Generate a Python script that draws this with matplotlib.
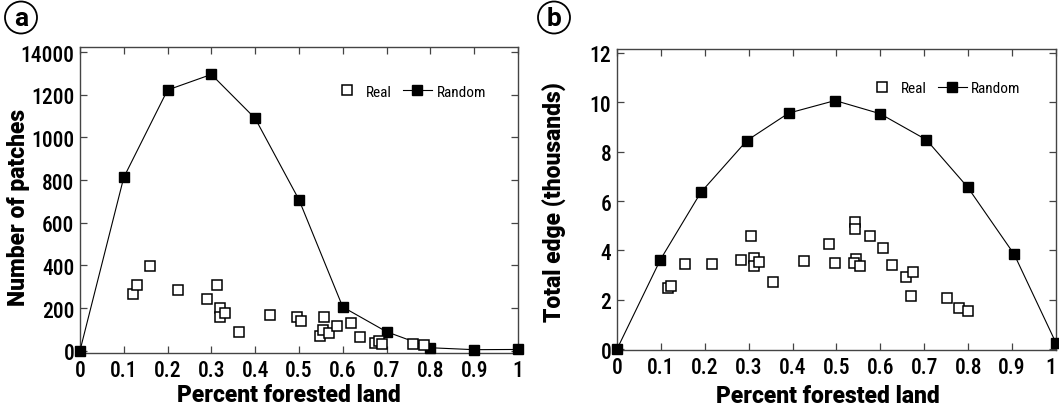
import numpy as np
import matplotlib
matplotlib.use("Agg")
import matplotlib.pyplot as plt
from matplotlib.patches import Ellipse

plt.rcParams['font.family'] = ['Roboto Condensed', 'Archivo Narrow', 'Fira Sans Condensed',
                               'PT Sans Narrow', 'Liberation Sans Narrow', 'DejaVu Sans']
bold_family = ['Roboto', 'Liberation Sans', 'DejaVu Sans']

# panel a: number of patches
rand_x_a = [0.0, 0.1, 0.2, 0.3, 0.4, 0.5, 0.6, 0.7, 0.8, 0.9, 1.0]
rand_y_a = [0, 812, 1222, 1295, 1089, 708, 205, 89, 14, 5, 6]
real_x_a = [0.121, 0.130, 0.160, 0.223, 0.291, 0.312, 0.319, 0.319, 0.332, 0.364,
            0.434, 0.496, 0.505, 0.548, 0.555, 0.558, 0.568, 0.588, 0.619, 0.640,
            0.674, 0.682, 0.690, 0.760, 0.786]
real_y_a = [267, 308, 395, 283, 241, 308, 198, 159, 175, 86,
            167, 156, 139, 67, 98, 159, 84, 117, 130, 66,
            34, 47, 31, 30, 25]
yticks_a = [0, 200, 400, 600, 800, 1000, 1200, 1400]
yticklabels_a = ['0', '200', '400', '600', '800', '1000', '1200', '14000']  # as printed

# panel b: total edge
rand_x_b = [0.0, 0.099, 0.191, 0.296, 0.391, 0.497, 0.599, 0.705, 0.799, 0.905, 1.0]
rand_y_b = [0.0, 3.63, 6.35, 8.45, 9.56, 10.07, 9.54, 8.48, 6.56, 3.84, 0.26]
real_x_b = [0.117, 0.123, 0.155, 0.216, 0.283, 0.305, 0.312, 0.313, 0.323, 0.356,
            0.425, 0.483, 0.497, 0.543, 0.543, 0.545, 0.540, 0.553, 0.577, 0.607,
            0.626, 0.659, 0.674, 0.670, 0.751, 0.780, 0.800]
real_y_b = [2.48, 2.57, 3.47, 3.47, 3.63, 4.57, 3.69, 3.36, 3.54, 2.73,
            3.59, 4.26, 3.48, 5.16, 4.88, 3.66, 3.48, 3.39, 4.59, 4.11,
            3.43, 2.93, 3.14, 2.15, 2.08, 1.69, 1.55]
yticks_b = [0, 2, 4, 6, 8, 10, 12]

xticks = [0, 0.1, 0.2, 0.3, 0.4, 0.5, 0.6, 0.7, 0.8, 0.9, 1]
xticklabels = ['0', '0.1', '0.2', '0.3', '0.4', '0.5', '0.6', '0.7', '0.8', '0.9', '1']

W, H = 1059, 414
fig = plt.figure(figsize=(W / 100, H / 100), dpi=100)
ax_a = fig.add_axes([0.0755, 0.1442, 0.4136, 0.7406])
ax_b = fig.add_axes([0.5826, 0.1522, 0.4145, 0.7278])

def draw(ax, rx, ry, px, py):
    ax.plot(rx, ry, color='black', lw=0.8, marker='s', ms=7, mfc='black', mec='black',
            clip_on=False, zorder=3, label='Random')
    ax.plot(px, py, ls='none', marker='s', ms=7, mfc='white', mec='black', mew=1.1,
            clip_on=False, zorder=4, label='Real')
    for s in ax.spines.values():
        s.set_color('#444444')
        s.set_linewidth(1.0)
    ax.tick_params(direction='in', top=True, right=True, length=5, width=0.9,
                   color='#444444', labelsize=15.5, pad=4)
    ax.set_xlim(0, 1.0)
    ax.set_xticks(xticks)
    ax.set_xticklabels(xticklabels, fontweight='medium')
    ax.set_xlabel('Percent forested land', fontsize=16.5, fontweight='black',
                  family=bold_family, va='center')
    h, l = ax.get_legend_handles_labels()
    return h[::-1], l[::-1]

h, l = draw(ax_a, rand_x_a, rand_y_a, real_x_a, real_y_a)
ax_a.set_ylim(-12, 1425)
ax_a.set_yticks(yticks_a)
ax_a.set_yticklabels(yticklabels_a, fontweight='medium')
ax_a.set_ylabel('Number of patches', fontsize=16.5, fontweight='black',
                family=bold_family, va='center')
ax_a.yaxis.set_label_coords(-0.140, 0.479)
ax_a.xaxis.set_label_coords(0.477, -0.135)
ax_a.legend(h, l, ncol=2, frameon=False, loc='center', bbox_to_anchor=(0.752, 0.853),
            fontsize=11, handlelength=1.9, columnspacing=0.7, handletextpad=0.3)

h, l = draw(ax_b, rand_x_b, rand_y_b, real_x_b, real_y_b)
ax_b.set_ylim(-0.03, 12.17)
ax_b.set_yticks(yticks_b)
ax_b.set_yticklabels([str(v) for v in yticks_b], fontweight='medium')
ax_b.get_xticklabels()[-1].set_ha('right')  # keep the last "1" inside the figure edge
ax_b.set_ylabel('Total edge (thousands)', fontsize=16.5, fontweight='black',
                family=bold_family, va='center')
ax_b.yaxis.set_label_coords(-0.141, 0.495)
ax_b.xaxis.set_label_coords(0.481, -0.150)
ax_b.legend(h, l, ncol=2, frameon=False, loc='center', bbox_to_anchor=(0.745, 0.868),
            fontsize=11, handlelength=1.9, columnspacing=0.7, handletextpad=0.3)

# circled panel letters
for txt, xp, yp in [('a', 21, 18.5), ('b', 554, 18.5)]:
    fig.patches.append(Ellipse((xp / W, 1 - yp / H), 32 / W, 32 / H, transform=fig.transFigure,
                               fc='white', ec='black', lw=1.3))
    fig.text(xp / W, 1 - (yp + 1) / H, txt, ha='center', va='center', fontsize=19,
             fontweight='bold', family=bold_family)

fig.savefig('out.png', dpi=100)
